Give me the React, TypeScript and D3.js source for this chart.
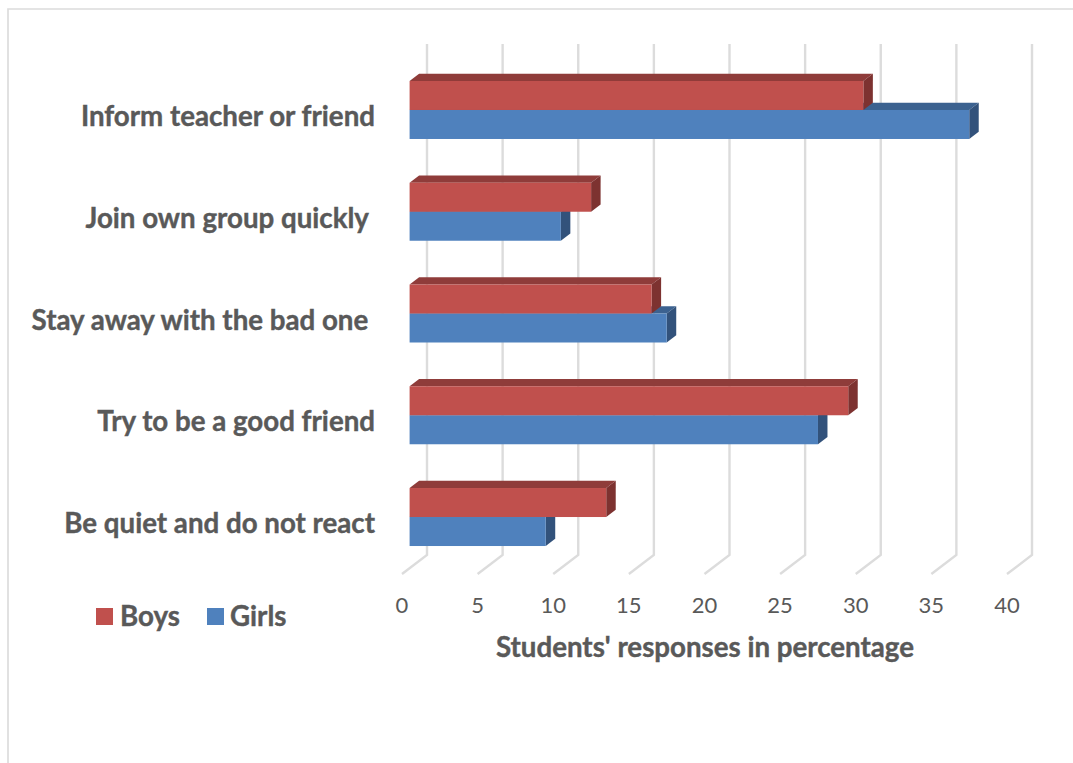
import React from "react";
import * as d3 from "d3";

const categories = [
  "Inform teacher or friend",
  "Join own group quickly ",
  "Stay away with the bad one ",
  "Try to be a good friend",
  "Be quiet and do not react",
];
const boys = [30, 12, 16, 29, 13];
const girls = [37, 10, 17, 27, 9];
const ticks = [0, 5, 10, 15, 20, 25, 30, 35, 40];
const seriesNames = ["Boys", "Girls"];

const W = 1073;
const H = 763;
const FONT = "Lato, Carlito, Calibri, sans-serif";
const TEXT = "#595959";
const GRID = "#dcdcdc";
const RED = { front: "#c0504d", top: "#8f3c3a", side: "#7d3230" };
const BLUE = { front: "#4f81bd", top: "#3c6290", side: "#32527b" };
const BOLD_SIZE = 27.7;

// Oblique offset of a bar's back face, and of the back wall from the axis tick.
const BAR_DX = 9.5;
const BAR_DY = -7.3;
const WALL_DX = 17.4;

const x = d3.scaleLinear().domain([0, 40]).range([409.6, 1014.6]);
const y = d3.scaleBand().domain(categories).range([59.1, 567.9]).padding(0);
const BAR_H = 29;

type Palette = typeof RED;

function Bar({ v, top, c }: { v: number; top: number; c: Palette }) {
  const x0 = x(0);
  const x1 = x(v);
  const b = top + BAR_H;
  return (
    <g>
      <path
        d={`M${x0},${top}L${x0 + BAR_DX},${top + BAR_DY}L${x1 + BAR_DX},${top + BAR_DY}L${x1},${top}Z`}
        fill={c.top}
      />
      <path
        d={`M${x1},${top}L${x1 + BAR_DX},${top + BAR_DY}L${x1 + BAR_DX},${b + BAR_DY}L${x1},${b}Z`}
        fill={c.side}
      />
      <rect x={x0} y={top} width={x1 - x0} height={BAR_H} fill={c.front} />
    </g>
  );
}

export default function App() {
  const boldText = {
    fontFamily: FONT,
    fontWeight: 700,
    fontSize: BOLD_SIZE,
    fill: TEXT,
    stroke: TEXT,
    strokeWidth: 0.4,
  };
  return (
    <svg
      width={W}
      height={H}
      viewBox={`0 0 ${W} ${H}`}
      style={{ position: "absolute", left: 0, top: 0, background: "#fff" }}
    >
      {/* chart frame */}
      <path d={`M8,763V9H${W}`} fill="none" stroke={GRID} strokeWidth={1.7} />

      {/* gridlines on the wall with their floor return */}
      {ticks.map((t) => (
        <path
          key={t}
          d={`M${x(t) + WALL_DX},44V555L${x(t) - 7.6},574`}
          fill="none"
          stroke={GRID}
          strokeWidth={2.4}
        />
      ))}

      {/* bars, lower series first so the upper one overlaps it */}
      {categories.map((cat, i) => {
        const c = y(cat)! + y.bandwidth() / 2;
        return (
          <g key={cat}>
            <Bar v={girls[i]} top={c} c={BLUE} />
            <Bar v={boys[i]} top={c - BAR_H} c={RED} />
          </g>
        );
      })}

      {/* category labels */}
      {categories.map((cat) => (
        <text
          key={cat}
          x={375}
          y={y(cat)! + y.bandwidth() / 2 + 16}
          textAnchor="end"
          xmlSpace="preserve"
          {...boldText}
        >
          {cat}
        </text>
      ))}

      {/* value axis labels */}
      {ticks.map((t) => (
        <text
          key={t}
          x={x(t) - 7.6}
          y={613}
          textAnchor="middle"
          fontFamily={FONT}
          fontSize={22}
          fill={TEXT}
        >
          {t}
        </text>
      ))}

      <text x={705} y={656.5} textAnchor="middle" {...boldText}>
        Students' responses in percentage
      </text>

      {/* legend */}
      <rect x={96} y={608} width={17} height={17} fill={RED.front} />
      <text x={120} y={625.5} {...boldText}>
        {seriesNames[0]}
      </text>
      <rect x={207} y={608} width={17} height={17} fill={BLUE.front} />
      <text x={230} y={625.5} {...boldText}>
        {seriesNames[1]}
      </text>
    </svg>
  );
}
